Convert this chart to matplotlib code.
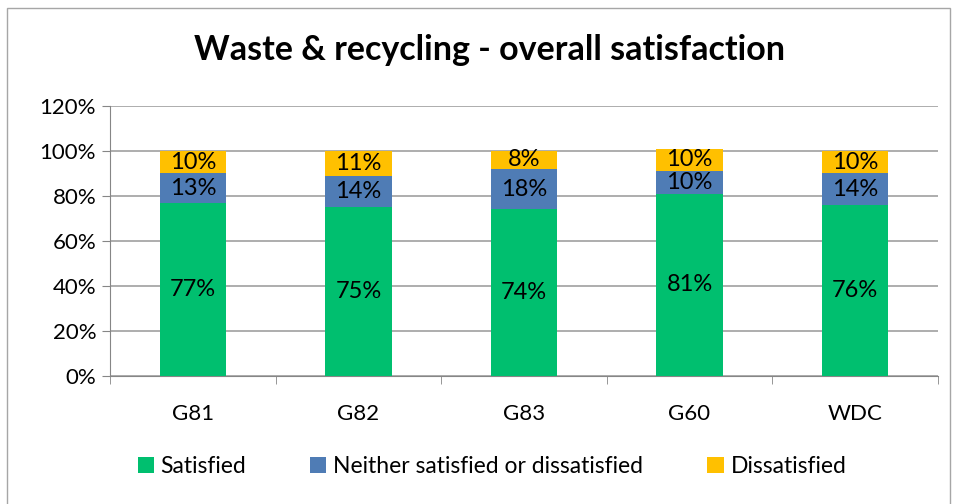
import numpy as np
import matplotlib.pyplot as plt
from matplotlib.patches import Rectangle

plt.rcParams['font.family'] = ['Lato', 'DejaVu Sans']

# Data
areas = ["G81", "G82", "G83", "G60", "WDC"]
satisfied = [77, 75, 74, 81, 76]
neither = [13, 14, 18, 10, 14]
dissatisfied = [10, 11, 8, 10, 10]
series_names = ["Satisfied", "Neither satisfied or dissatisfied", "Dissatisfied"]
colors = ["#00BF6F", "#4F7CB5", "#FFC000"]

fig = plt.figure(figsize=(9.57, 5.04), dpi=100)
ax = fig.add_axes([0.115, 0.254, 0.865, 0.536])

# chart border
fig.patches.append(Rectangle((0.007, -0.02), 0.986, 1.005, transform=fig.transFigure,
                             fill=False, edgecolor="#a6a6a6", linewidth=1.0))

x = np.arange(len(areas))
bottom = np.zeros(len(areas))
for vals, name, col in zip([satisfied, neither, dissatisfied], series_names, colors):
    vals = np.array(vals, dtype=float)
    ax.bar(x, vals, 0.4, bottom=bottom, color=col, label=name, zorder=3)
    for xi, b, v in zip(x, bottom, vals):
        ax.text(xi, b + v / 2, f"{int(v)}%", ha="center", va="center",
                fontsize=17, color="black", zorder=4)
    bottom += vals

ax.set_xlim(-0.5, len(areas) - 0.5)
ax.set_ylim(0, 120)
ax.set_yticks(range(0, 121, 20))
ax.set_yticklabels([f"{v}%" for v in range(0, 121, 20)], fontsize=16)
ax.set_xticks(x)
ax.set_xticklabels(areas, fontsize=16)
ax.set_xticks(np.arange(-0.5, len(areas), 1), minor=True)
ax.tick_params(axis="x", which="major", length=0, pad=20)
ax.tick_params(axis="x", which="minor", length=6, color="#868686")
ax.tick_params(axis="y", length=6, color="#868686", pad=4)

ax.grid(axis="y", color="#a0a0a0", linewidth=1.2, zorder=0)
for side in ["top", "right"]:
    ax.spines[side].set_visible(False)
for side in ["left", "bottom"]:
    ax.spines[side].set_color("#868686")

fig.text(0.512, 0.9, "Waste & recycling - overall satisfaction",
         ha="center", va="center", fontsize=24.5, fontweight="bold")

fig.legend(loc="center", bbox_to_anchor=(0.514, 0.075), ncol=3, frameon=False,
           fontsize=16.5, handlelength=0.7, handleheight=0.7, handletextpad=0.3,
           columnspacing=2.8)

fig.savefig("out.png", dpi=100)
